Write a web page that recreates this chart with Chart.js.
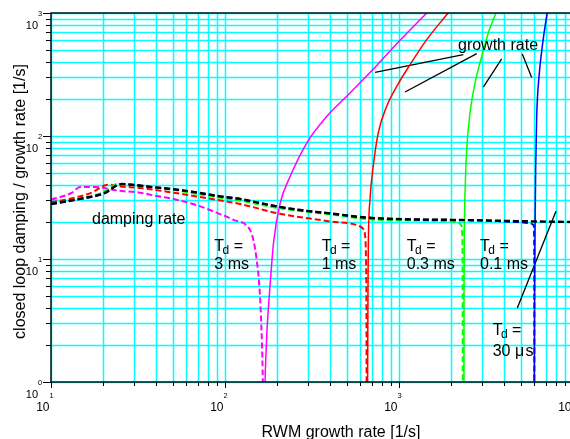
<!DOCTYPE html>
<html><head><meta charset="utf-8">
<style>html,body{margin:0;padding:0;background:#fff;overflow:hidden;width:570px;height:439px}canvas{display:block}</style>
<script src="https://cdn.jsdelivr.net/npm/chart.js@4.4.1/dist/chart.umd.min.js"></script>
</head><body><canvas id="c" width="600" height="439"></canvas>
<script>
// ---- axis ticks / grid ----
const xGrid = [10,20,30,40,50,60,70,80,90,100,200,300,400,500,600,700,800,900,1000,2000,3000,4000,5000,6000,7000,8000,9000,10000];
const yGrid = [1,2,3,4,5,6,7,8,9,10,20,30,40,50,60,70,80,90,100,200,300,400,500,600,700,800,900,1000];
const xMajor = [10,100,1000,10000];
const xMajorExp = ['1','2','3','4'];
const yMajor = [1,10,100,1000];
const yMajorExp = ['0','1','2','3'];

// ---- damping rate (dashed), [growth rate, damping] ----
const damp30us = [[10,28],[15,31],[20,34],[25.5,40.7],[30,40],[37,38.6],[50,37],[72,34.4],[94,32.3],[122,30.8],[150,29],[207,26.5],[270,25],[400,23.5],[650,21.7],[1150,21],[2000,20.8],[3000,20.6],[5000,20.3],[10000,20]];
const damp01ms = [[10,28],[15,31],[20,34],[25.5,40.7],[30,40],[37,38.6],[50,37],[72,34.4],[94,32.3],[122,30.8],[150,29],[207,26.5],[270,25],[400,23.5],[650,21.7],[1150,21],[2000,20.8],[3000,20.6],[4000,20.2],[5000,19.9],[5700,19.5],[5950,18.8],[5985,15],[5992,8],[5996,2],[5998,0.5]];
const damp03ms = [[10,28],[15,31.3],[20,35],[24,40.7],[30,39.7],[50,36.5],[94,31.5],[122,29.8],[207,25.8],[400,23.1],[650,21.1],[1150,20.6],[2050,20.1],[2200,19.7],[2280,18.8],[2310,16],[2320,10],[2325,3],[2327,0.5]];
const damp1ms = [[10,29],[13,31],[17,34.5],[21.3,40.2],[25,38.9],[32.5,37.8],[50.5,34.6],[78.5,31.3],[94,29.9],[122,28],[207,23.3],[401,20.2],[597,18.4],[624,17.5],[638,15.7],[646,10],[650,4],[652,0.5]];
const damp3ms = [[10,30.3],[13.1,34.4],[14.7,38.5],[17.9,38.5],[24.4,35.9],[32.5,34.6],[40.5,32.5],[52,30.5],[72,26.8],[90,23.7],[112,20.8],[139,17.3],[145.6,14.3],[152,9.9],[157,6.4],[161,3.4],[165,1],[166,0.5]];

// ---- closed loop growth rate (solid) ----
const grow3ms = [[169,0.5],[170,1],[172,1.7],[174,2.5],[178,4.2],[182,6.4],[190,13.5],[207,28],[237,47],[295,87.7],[384,144],[523,224],[745,375],[1014,600],[1443,1000],[1550,1110]];
const grow1ms = [[659,0.5],[660,1],[662,3],[664,7],[667,14.3],[681,30.3],[711,56.6],[760,106],[849,174],[970,253],[1157,380],[1443,607],[1915,1000],[2000,1080]];
const grow03ms = [[2360,0.5],[2363,1],[2365,6],[2373,16.3],[2405,41.5],[2449,77.5],[2559,154],[2735,270],[2989,443],[3259,688],[3605,1000],[3700,1080]];
const grow01ms = [[5990,0.5],[5994,1],[6020,6],[6048,16.3],[6104,56.6],[6185,144],[6380,305],[6700,570],[7115,1000],[7250,1120]];

// ---- annotation pointers (data coordinates) ----
const pointerGrowth1 = [[2342,458],[728,329]];
const pointerGrowth2 = [[2796,467],[1083,228]];
const pointerGrowth3 = [[3890,423],[3052,250]];
const pointerGrowth4 = [[5113,464],[5788,299]];
const pointer30us = [[7980,24.4],[4786,3.99]];

// ---- text annotations (data coordinates) ----
const plainLabels = [
  {text:'growth rate', x:2183, y:503},
  {text:'damping rate', x:17.2, y:19.4}
];
const tdLabels = [
  {value:'3 ms', x:86.8, y1:11.7, y2:8.34},
  {value:'1 ms', x:359.5, y1:11.7, y2:8.34},
  {value:'0.3 ms', x:1108, y1:11.7, y2:8.34},
  {value:'0.1 ms', x:2921, y1:11.7, y2:8.34},
  {value:'30 \u03bc\u200As', x:3455, y1:2.40, y2:1.64}
];
const xTitle = 'RWM growth rate [1/s]';
const yTitle = 'closed loop damping / growth rate [1/s]';

const FONT = '"Liberation Sans", Arial, Helvetica, sans-serif';
const pts = a => a.map(p => ({x:p[0], y:p[1]}));

function dashed(data, color, order, w){
  return {data:pts(data), borderColor:color, borderWidth:w||2, borderDash:[6,3], cubicInterpolationMode:'monotone', order:order, pointRadius:0, fill:false};
}
function solid(data, color, order){
  return {data:pts(data), borderColor:color, borderWidth:1.5, cubicInterpolationMode:'monotone', order:order, pointRadius:0, fill:false};
}
function pointer(data){
  return {data:pts(data), borderColor:'#000', borderWidth:1.3, tension:0, order:20, pointRadius:0, fill:false};
}

const decor = {
  id:'decor',
  beforeDatasetsDraw(chart){
    const {ctx, chartArea:a, scales:{x, y}} = chart;
    ctx.save();
    ctx.strokeStyle = '#00ffff';
    ctx.lineWidth = 1.5;
    ctx.beginPath();
    for (const v of xGrid){
      const px = Math.round(x.getPixelForValue(v)) + 0.5;
      ctx.moveTo(px, a.top); ctx.lineTo(px, a.bottom);
    }
    for (const v of yGrid){
      const py = Math.round(y.getPixelForValue(v)) + 0.5;
      ctx.moveTo(a.left, py); ctx.lineTo(a.right, py);
    }
    ctx.stroke();
    ctx.restore();
  },
  afterDatasetsDraw(chart){
    const {ctx, chartArea:a, scales:{x, y}} = chart;
    ctx.save();
    ctx.fillStyle = '#000';
    ctx.textBaseline = 'alphabetic';
    ctx.font = '16px ' + FONT;
    ctx.textAlign = 'left';
    for (const l of plainLabels){
      ctx.fillText(l.text, x.getPixelForValue(l.x), y.getPixelForValue(l.y));
    }
    for (const l of tdLabels){
      const px = x.getPixelForValue(l.x), py1 = y.getPixelForValue(l.y1), py2 = y.getPixelForValue(l.y2);
      ctx.font = '16px ' + FONT;
      ctx.fillText('T', px, py1);
      const wT = ctx.measureText('T').width;
      ctx.font = '12px ' + FONT;
      ctx.fillText('d', px + wT - 1.5, py1 + 3);
      const wd = ctx.measureText('d').width;
      ctx.font = '16px ' + FONT;
      ctx.fillText(' =', px + wT - 1.5 + wd, py1);
      ctx.fillText(l.value, px, py2);
    }
    ctx.restore();
  },
  afterDraw(chart){
    const {ctx, chartArea:a, scales:{x, y}} = chart;
    ctx.save();
    ctx.strokeStyle = '#000';
    ctx.lineWidth = 1;
    ctx.beginPath();
    for (const v of yGrid){
      const py = Math.round(y.getPixelForValue(v)) + 0.5;
      const len = yMajor.includes(v) ? 8 : 5;
      ctx.moveTo(a.left - len, py); ctx.lineTo(a.left, py);
    }
    for (const v of xGrid){
      const px = Math.round(x.getPixelForValue(v)) + 0.5;
      const len = xMajor.includes(v) ? 6 : 4;
      ctx.moveTo(px, a.bottom); ctx.lineTo(px, a.bottom + len);
    }
    ctx.stroke();
    ctx.lineWidth = 1.4;
    ctx.strokeRect(a.left, a.top, a.right - a.left, a.bottom - a.top);

    ctx.fillStyle = '#000';
    ctx.textBaseline = 'alphabetic';
    yMajor.forEach((v, i) => {
      const py = y.getPixelForValue(v);
      ctx.font = '11px ' + FONT; ctx.textAlign = 'right';
      ctx.fillText('10', 38, py + 15.5);
      ctx.font = '7.5px ' + FONT; ctx.textAlign = 'left';
      ctx.fillText(yMajorExp[i], 38, py + 3);
    });
    xMajor.forEach((v, i) => {
      const px = x.getPixelForValue(v);
      ctx.font = '12px ' + FONT; ctx.textAlign = 'right';
      ctx.fillText('10', px - 1.5, a.bottom + 28.5);
      ctx.font = '7.5px ' + FONT; ctx.textAlign = 'left';
      ctx.fillText(xMajorExp[i], px - 1.5, a.bottom + 16);
    });
    ctx.font = '16px ' + FONT;
    ctx.textAlign = 'center';
    ctx.fillText(xTitle, 341, 436.5);
    ctx.translate(25, 201.5);
    ctx.rotate(-Math.PI / 2);
    ctx.fillText(yTitle, 0, 0);
    ctx.restore();
  }
};

new Chart(document.getElementById('c'), {
  type:'line',
  data:{datasets:[
    dashed(damp30us, '#000000', 0, 2.4),
    dashed(damp01ms, '#0000ff', 1),
    dashed(damp03ms, '#00ff00', 2),
    dashed(damp1ms, '#ff0000', 3),
    dashed(damp3ms, '#ff00ff', 4),
    solid(grow3ms, '#ff00ff', 5),
    solid(grow1ms, '#ff0000', 6),
    solid(grow03ms, '#00ff00', 7),
    solid(grow01ms, '#0000ff', 8),
    pointer(pointerGrowth1), pointer(pointerGrowth2), pointer(pointerGrowth3), pointer(pointerGrowth4), pointer(pointer30us)
  ]},
  options:{
    responsive:false, animation:false, devicePixelRatio:1,
    layout:{padding:{left:51, right:27, top:13, bottom:57}},
    plugins:{legend:{display:false}, tooltip:{enabled:false}, title:{display:false}},
    elements:{point:{radius:0}},
    scales:{
      x:{type:'logarithmic', min:10, max:10000,
         afterBuildTicks:s => { s.ticks = xGrid.map(v => ({value:v})); },
         ticks:{display:false}, title:{display:false},
         grid:{display:false, drawTicks:false}, border:{display:false}},
      y:{type:'logarithmic', min:1, max:1000,
         afterBuildTicks:s => { s.ticks = yGrid.map(v => ({value:v})); },
         ticks:{display:false}, title:{display:false},
         grid:{display:false, drawTicks:false}, border:{display:false}}
    }
  },
  plugins:[decor]
});
</script></body></html>
